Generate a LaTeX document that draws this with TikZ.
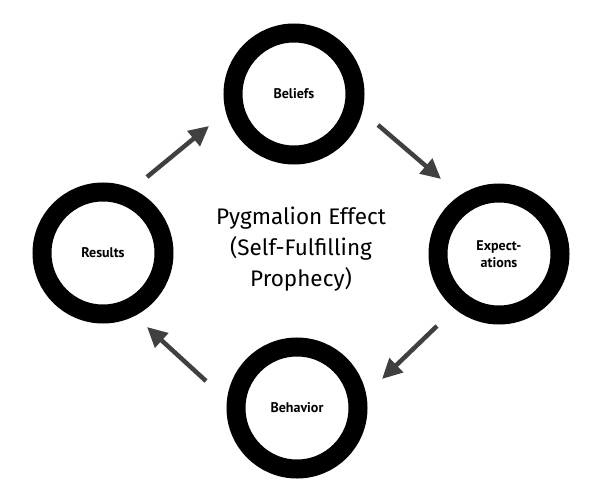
\documentclass[tikz,border=0pt]{standalone}
\usepackage{fontspec}
\setmainfont{PT Sans}
\newfontfamily\titlefont{Fira Sans}
\usetikzlibrary{arrows.meta}
\begin{document}
\begin{tikzpicture}[x=1pt,y=-1pt,
  ring/.style={circle,draw=black,line width=19pt,minimum size=122pt,inner sep=0pt,font=\bfseries\fontsize{14}{17}\selectfont,align=center},
  cyc/.style={draw=black!75,line width=4.5pt,-{Triangle[length=20pt,width=19pt]}}]
\useasboundingbox (0,0) rectangle (592,495);
\node[ring] (bel) at (294,94) {Beliefs};
\node[ring] (exp) at (499,254) {Expect-\\ations};
\node[ring] (beh) at (297,408) {Behavior};
\node[ring] (res) at (103,253) {Results};
\node[font=\titlefont\fontsize{22.5}{31}\selectfont,align=center] (title) at (301,249) {Pygmalion Effect\\(Self-Fulfilling\\Prophecy)};
\coordinate (a1s) at (147,177); \coordinate (a1e) at (209,126);
\coordinate (a2s) at (378,125); \coordinate (a2e) at (441,179);
\coordinate (a3s) at (437,326); \coordinate (a3e) at (382,379);
\coordinate (a4s) at (206,381); \coordinate (a4e) at (147,327);
\draw[cyc] (a1s) -- (a1e);
\draw[cyc] (a2s) -- (a2e);
\draw[cyc] (a3s) -- (a3e);
\draw[cyc] (a4s) -- (a4e);
\end{tikzpicture}
\end{document}
